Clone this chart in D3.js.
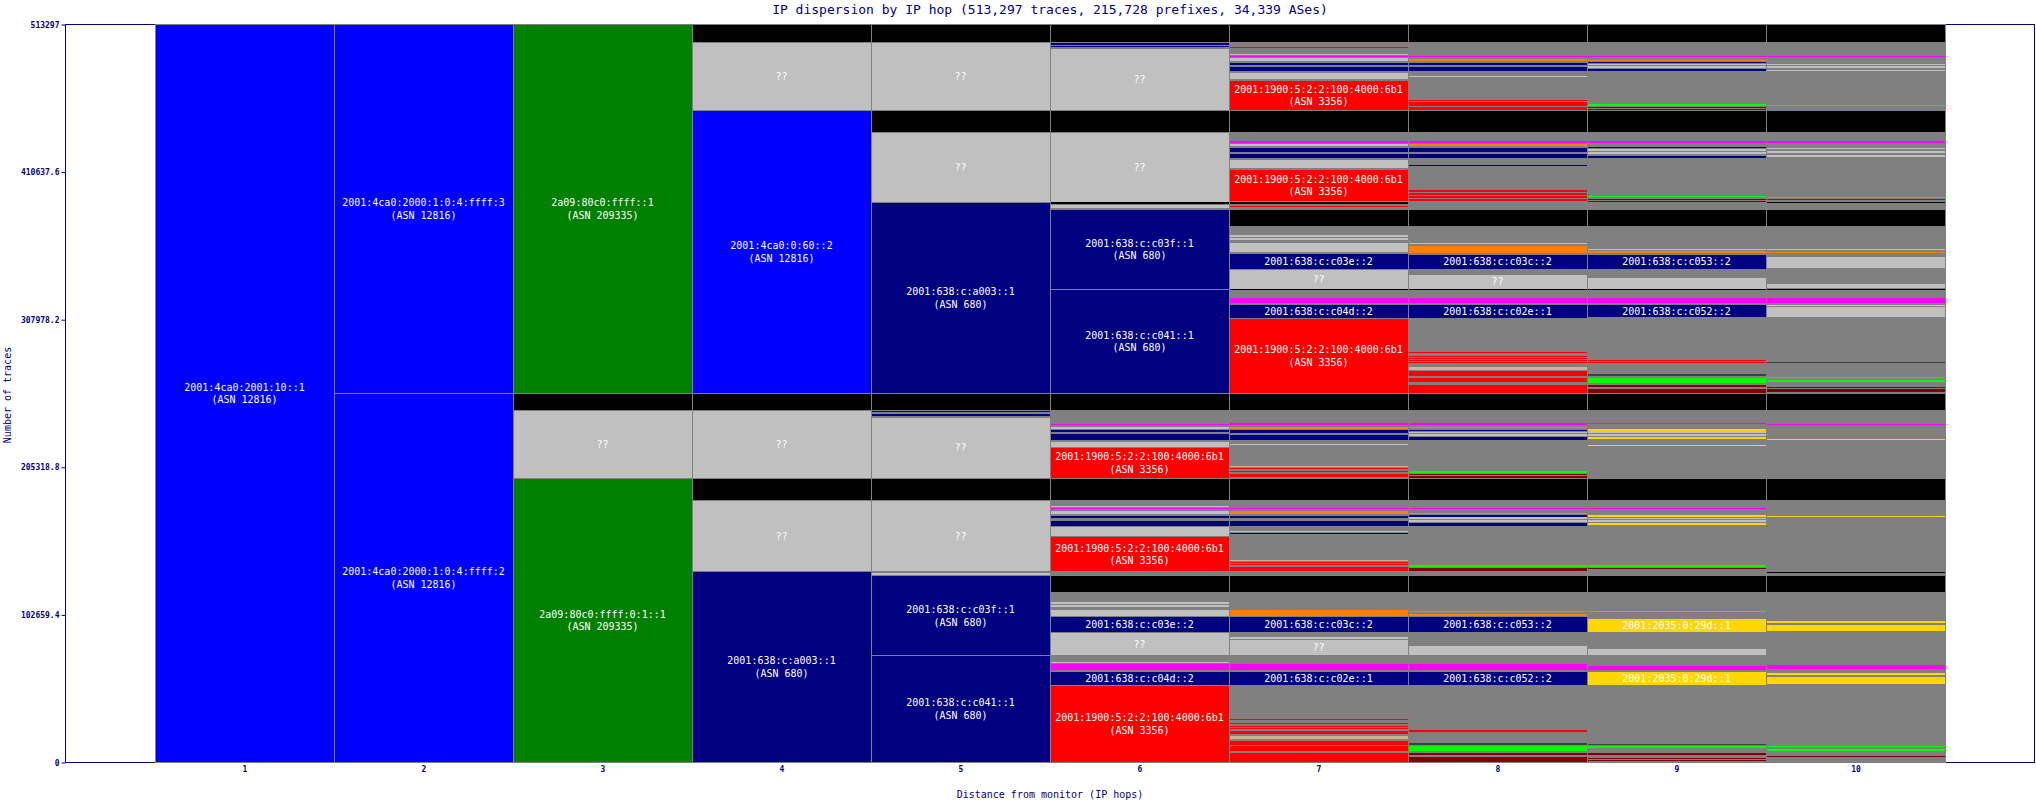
<!DOCTYPE html>
<html>
<head>
<meta charset="utf-8">
<script src="https://cdn.jsdelivr.net/npm/d3@7"></script>
<style>
  body { margin: 0; background: #fff; }
  text { font-family: "DejaVu Sans Mono", "Liberation Mono", monospace; }
  .axis text { fill: #000080; font-size: 8px; font-weight: bold; }
  .axis path { display: none; }
  .axis line { stroke: #000080; }
</style>
</head>
<body>
<div id="chart"></div>
<script>
// traces reaching each hop, listed from top to bottom: [traces, owner, address]
const TOTAL = 513297;
const IP3356 = "2001:1900:5:2:2:100:4000:6b1";

const hop1 = [[513297, "12816", "2001:4ca0:2001:10::1"]];
const hop2 = [[256640, "12816", "2001:4ca0:2000:1:0:4:ffff:3"], [256657, "12816", "2001:4ca0:2000:1:0:4:ffff:2"]];
const hop3 = [[256640, "209335", "2a09:80c0:ffff::1"], [11960, "none"], [47150, "unk"], [197547, "209335", "2a09:80c0:ffff:0:1::1"]];
const hop4 = [[12520, "none"], [47290, "unk"], [196830, "12816", "2001:4ca0:0:60::2"],
  [11960, "none"], [47150, "unk"], [15300, "none"], [49660, "unk"], [132587, "680", "2001:638:c:a003::1"]];
const hop5 = [[12520, "none"], [47290, "unk"], [15300, "none"], [48690, "unk"], [132840, "680", "2001:638:c:a003::1"],
  [11960, "none"], [1000, "680"], [1000, "other"], [1450, "680"], [1000, "other"], [42700, "unk"],
  [15300, "none"], [49660, "unk"], [1000, "other"], [1000, "unk"], [800, "other"],
  [55640, "680", "2001:638:c:c03f::1"], [74147, "680", "2001:638:c:c041::1"]];
const hop6 = [[12520, "none"], [500, "other"], [900, "680"], [900, "other"], [900, "680"], [1250, "other"], [42840, "unk"],
  [15300, "none"], [48690, "unk"],
  [700, "none"], [900, "other"], [2300, "unk"], [750, "other"], [55850, "680", "2001:638:c:c03f::1"], [72340, "680", "2001:638:c:c041::1"],
  [11960, "none"], [3130, "other"], [500, "3356"], [5420, "other"], [830, "mag"], [900, "other"], [2090, "unk"], [700, "other"],
  [1600, "680"], [970, "other"], [4380, "680"], [700, "other"], [4380, "unk"], [21560, "3356", IP3356],
  [15300, "none"], [3760, "other"], [560, "unk"], [700, "other"], [830, "mag"], [1390, "other"], [2300, "unk"], [700, "other"],
  [2570, "680"], [900, "other"], [4170, "680"], [490, "other"], [6470, "unk"], [490, "other"], [24340, "3356", IP3356],
  [2800, "other"],
  [11340, "none"], [6950, "other"], [900, "unk"], [970, "other"], [1800, "unk"], [1180, "other"], [4870, "unk"], [490, "other"],
  [10640, "680", "2001:638:c:c03e::2"], [490, "other"], [15720, "unk"], [290, "other"],
  [700, "none"], [3480, "other"], [700, "unk"], [700, "other"], [4380, "mag"], [700, "other"],
  [9740, "680", "2001:638:c:c04d::2"], [490, "other"], [53257, "3356", IP3356]];
const hop7 = [[12520, "none"], [3130, "other"], [700, "3356"], [3960, "other"], [700, "unk"], [700, "other"], [830, "mag"], [420, "other"],
  [2780, "unk"], [490, "other"], [2570, "680"], [700, "other"], [3480, "680"], [700, "other"], [4380, "unk"], [700, "other"], [21050, "3356", IP3356],
  [15300, "none"], [5360, "other"], [2300, "mag"], [490, "other"], [1390, "unk"], [700, "other"], [3480, "680"], [700, "other"],
  [3480, "680"], [700, "other"], [6470, "unk"], [490, "other"], [22740, "3356", IP3356], [390, "other"],
  [700, "none"], [1800, "other"], [900, "3356"], [1250, "other"],
  [11820, "none"], [6050, "other"], [1390, "unk"], [700, "other"], [2090, "unk"], [900, "other"], [7440, "unk"], [420, "other"],
  [10920, "680", "2001:638:c:c03e::2"], [490, "other"], [13630, "unk"],
  [700, "none"], [4660, "other"], [4380, "mag"], [490, "other"], [9740, "680", "2001:638:c:c04d::2"], [490, "other"], [51880, "3356", IP3356],
  [11960, "none"], [8490, "other"], [1600, "mag"], [1180, "other"], [1810, "org"], [490, "other"], [1880, "680"], [900, "other"],
  [4170, "680"], [2570, "other"], [560, "unk"], [700, "other"], [700, "680"], [13420, "other"], [700, "tan"], [830, "other"],
  [700, "3356"], [1180, "other"], [900, "3356"], [900, "other"], [3060, "3356"], [410, "other"],
  [15300, "none"], [5150, "other"], [1110, "mag"], [970, "other"], [2300, "org"], [700, "other"], [2570, "680"], [900, "other"],
  [4170, "680"], [3130, "other"], [700, "unk"], [630, "other"], [700, "680"], [900, "other"], [700, "unk"], [16690, "other"],
  [700, "tan"], [700, "other"], [830, "3356"], [770, "other"], [900, "3356"], [970, "other"], [3470, "3356"],
  [2800, "other"],
  [11340, "none"], [12030, "other"], [4660, "org"], [490, "other"], [10640, "680", "2001:638:c:c03c::2"], [3270, "other"],
  [1390, "unk"], [420, "other"], [11400, "unk"],
  [700, "none"], [4870, "other"], [4380, "mag"], [700, "other"], [9740, "680", "2001:638:c:c02e::1"], [23650, "other"],
  [700, "3356"], [2090, "other"], [700, "3356"], [1040, "other"], [700, "3356"], [830, "other"], [900, "3356"], [1390, "other"],
  [1600, "3356"], [1670, "other"], [2500, "tan"], [490, "other"], [3480, "3356"], [490, "other"], [4170, "3356"], [700, "other"], [6657, "3356"]];
const hop8 = [[12520, "none"], [9530, "other"], [900, "mag"], [970, "other"], [1600, "org"], [700, "other"], [2570, "680"], [700, "other"],
  [3480, "680"], [2780, "other"], [700, "unk"], [700, "other"], [700, "680"], [14330, "other"], [970, "3356"], [900, "other"],
  [970, "3356"], [560, "other"], [900, "3356"], [420, "other"], [2910, "3356"],
  [15300, "none"], [5360, "other"], [2300, "mag"], [490, "other"], [1390, "org"], [700, "other"], [3480, "680"], [700, "other"],
  [3480, "680"], [4520, "other"], [700, "680"], [560, "other"], [700, "unk"], [15790, "other"], [900, "3356"], [970, "other"],
  [1390, "3356"], [900, "other"], [900, "3356"], [970, "other"], [2090, "3356"], [400, "other"],
  [4650, "other"],
  [11820, "none"], [11610, "other"], [1110, "unk"], [970, "other"], [5290, "org"], [490, "other"],
  [10430, "680", "2001:638:c:c03c::2"], [3480, "other"], [10650, "unk"],
  [700, "none"], [4660, "other"], [4380, "mag"], [490, "other"], [9740, "680", "2001:638:c:c02e::1"], [23650, "other"],
  [700, "3356"], [1880, "other"], [700, "3356"], [490, "other"], [700, "3356"], [1110, "other"], [700, "3356"], [700, "other"],
  [900, "3356"], [2360, "other"], [2300, "tan"], [490, "other"], [3690, "3356"], [700, "other"], [3960, "3356"], [900, "other"], [6440, "3356"],
  [11960, "none"], [8900, "other"], [970, "mag"], [1390, "other"], [900, "org"], [1390, "other"], [900, "680"], [490, "other"],
  [900, "unk"], [490, "other"], [1390, "unk"], [490, "other"], [2300, "680"], [3830, "other"], [700, "680"], [17250, "other"],
  [970, "lime"], [900, "other"], [900, "mar"], [490, "other"], [1180, "mar"], [420, "other"],
  [15300, "none"], [5150, "other"], [1110, "mag"], [2570, "other"], [700, "org"], [700, "other"], [1180, "680"], [420, "other"],
  [1180, "unk"], [490, "other"], [1600, "unk"], [490, "other"], [2300, "680"], [26920, "other"], [1390, "lime"], [420, "other"],
  [970, "mar"], [420, "other"], [1650, "mar"],
  [2800, "other"],
  [11340, "none"], [13010, "other"], [900, "org"], [1180, "other"], [1600, "org"], [490, "other"],
  [10640, "680", "2001:638:c:c053::2"], [9040, "other"], [7440, "unk"],
  [700, "none"], [4870, "other"], [4380, "mag"], [700, "other"], [9740, "680", "2001:638:c:c052::2"], [31300, "other"],
  [900, "3356"], [1390, "other"], [970, "3356"], [5560, "other"], [1390, "dkg"], [700, "other"], [4170, "lime"], [700, "other"],
  [2090, "mar"], [700, "other"], [3887, "mar"]];
const hop9 = [[12520, "none"], [9530, "other"], [900, "mag"], [1880, "other"], [900, "org"], [490, "other"], [560, "680"], [350, "other"],
  [1180, "unk"], [700, "other"], [1180, "unk"], [900, "other"], [1880, "680"], [4030, "other"], [700, "680"], [17740, "other"],
  [1390, "lime"], [490, "other"], [900, "mar"], [630, "other"], [770, "mar"], [190, "other"],
  [15300, "none"], [6260, "other"], [1390, "mag"], [2780, "other"], [700, "680"], [350, "other"], [1390, "unk"], [830, "other"],
  [1390, "unk"], [1180, "other"], [1600, "680"], [26430, "other"], [900, "lime"], [970, "other"], [900, "mar"], [490, "other"],
  [900, "mar"], [230, "other"],
  [300, "other"], [700, "none"], [3650, "other"],
  [11820, "none"], [16000, "other"], [900, "unk"], [490, "other"], [1600, "org"], [700, "other"],
  [10220, "680", "2001:638:c:c053::2"], [6050, "other"], [8070, "unk"],
  [700, "none"], [5050, "other"], [3900, "mag"], [960, "other"], [9040, "680", "2001:638:c:c052::2"], [29420, "other"],
  [700, "3356"], [490, "other"], [700, "3356"], [700, "other"], [700, "unk"], [6470, "other"], [1390, "dkg"], [900, "other"],
  [4170, "lime"], [490, "other"], [2300, "mar"], [700, "other"], [3560, "mar"],
  [11960, "none"], [8900, "other"], [970, "mag"], [3200, "other"], [970, "yel"], [200, "other"], [1390, "unk"], [200, "other"],
  [2360, "unk"], [420, "other"], [1390, "yel"], [4170, "other"], [970, "yel"], [22010, "other"],
  [15300, "none"], [5150, "other"], [1110, "mag"], [4170, "other"], [970, "yel"], [900, "other"], [900, "unk"], [490, "other"],
  [1390, "unk"], [900, "other"], [1390, "yel"], [27820, "other"], [970, "lime"], [700, "other"], [900, "mar"], [1900, "other"],
  [2800, "other"],
  [11340, "none"], [13010, "other"], [700, "org"], [1810, "other"], [970, "org"], [2090, "other"],
  [9250, "yel", "2001:2035:0:29d::1"], [11610, "other"], [4860, "unk"],
  [700, "none"], [5770, "other"], [3480, "mag"], [700, "other"], [9740, "yel", "2001:2035:0:29d::1"], [32340, "other"],
  [700, "unk"], [7510, "other"], [970, "dkg"], [700, "other"], [1110, "lime"], [700, "other"], [700, "lime"], [2360, "other"],
  [2090, "mar"], [1600, "other"], [700, "mar"], [700, "other"], [700, "mar"], [877, "other"]];
const hop10 = [[12520, "none"], [9530, "other"], [700, "mag"], [4380, "other"], [1180, "unk"], [700, "other"], [1180, "unk"],
  [1110, "other"], [1670, "unk"], [23160, "other"], [700, "lime"], [2980, "other"],
  [15300, "none"], [6260, "other"], [1390, "mag"], [3060, "other"], [1110, "unk"], [970, "other"], [1390, "unk"], [900, "other"],
  [2300, "unk"], [27260, "other"], [700, "lime"], [700, "other"], [700, "dkg"], [1950, "other"],
  [700, "none"], [3950, "other"],
  [11820, "none"], [16210, "other"], [500, "unk"], [1390, "other"], [900, "org"], [2360, "other"], [8350, "unk"], [9950, "other"],
  [3960, "unk"], [410, "other"],
  [700, "none"], [5050, "other"], [3900, "mag"], [960, "other"], [900, "yel"], [490, "other"], [7650, "unk"], [30810, "other"],
  [700, "dkg"], [490, "other"], [700, "unk"], [6820, "other"], [560, "dkg"], [970, "other"], [1110, "lime"], [700, "other"],
  [2360, "lime"], [2780, "other"], [1110, "mar"], [700, "other"], [1670, "mar"], [1210, "other"],
  [11960, "none"], [9390, "other"], [700, "mag"], [9740, "other"], [700, "yel"], [26620, "other"],
  [15300, "none"], [5840, "other"], [700, "mag"], [4450, "other"], [700, "yel"], [5910, "other"], [700, "yel"], [31360, "other"],
  [200, "other"], [700, "none"], [1900, "other"],
  [11340, "none"], [19470, "other"], [2090, "yel"], [700, "other"], [5290, "yel"], [16750, "other"],
  [700, "none"], [5560, "other"], [3060, "mag"], [2090, "other"], [2160, "yel"], [1040, "other"], [5360, "yel"], [42630, "other"],
  [1040, "lime"], [1390, "other"], [1390, "lime"], [3130, "other"], [700, "mar"], [700, "other"], [700, "mar"], [2497, "other"]];

const HOPS = [hop1, hop2, hop3, hop4, hop5, hop6, hop7, hop8, hop9, hop10];
const KEYS = ["none", "unk", "other", "12816", "209335", "680", "3356", "mag", "org", "yel", "lime", "mar", "tan", "dkg"];
const KEY_COLORS = ["#000000", "#c0c0c0", "#808080", "#0000ff", "#008000", "#000080", "#ff0000", "#ff00ff", "#ff8000", "#ffd700", "#00ff00", "#800000", "#d2b48c", "#404040"];
const Y_TICKS = ["0", "102659.4", "205318.8", "307978.2", "410637.6", "513297"];

const WIDTH = 2036;
const HEIGHT = 800;
const NAVY = "#000080";

const SVG = d3.select("#chart").append("svg")
  .attr("width", WIDTH)
  .attr("height", HEIGHT)
  .style("display", "block");

const X_SCALE = d3.scaleLinear().domain([0, 11]).range([65.5, 2034.5]);
const Y_SCALE = d3.scaleLinear().domain([0, TOTAL]).range([762.5, 24.5]);
const COLOR = d3.scaleOrdinal().domain(KEYS).range(KEY_COLORS);

// frame
SVG.append("rect")
  .attr("x", X_SCALE(0))
  .attr("y", Y_SCALE(TOTAL))
  .attr("width", X_SCALE(11) - X_SCALE(0))
  .attr("height", Y_SCALE(0) - Y_SCALE(TOTAL))
  .attr("fill", "#fff")
  .attr("stroke", NAVY);

// stack every hop column
const BLOCKS = [];
HOPS.forEach((segs, i) => {
  let acc = 0;
  segs.forEach((s) => {
    BLOCKS.push({ hop: i + 1, v0: acc, v1: acc + s[0], key: s[1], ip: s[2] });
    acc += s[0];
  });
});

const blockTop = (d) => Y_SCALE(TOTAL - d.v0);
const blockH = (d) => Y_SCALE(TOTAL - d.v1) - Y_SCALE(TOTAL - d.v0);

const PLOT = SVG.append("g").attr("shape-rendering", "crispEdges");

PLOT.selectAll(".block")
  .data(BLOCKS)
  .enter()
  .append("rect")
  .attr("class", "block")
  .attr("x", (d) => X_SCALE(d.hop - 0.5))
  .attr("width", (d) => X_SCALE(d.hop + 0.5) - X_SCALE(d.hop - 0.5))
  .attr("y", blockTop)
  .attr("height", blockH)
  .attr("fill", (d) => COLOR(d.key))
  .attr("stroke", (d) => (blockH(d) >= 3 ? "#808080" : "none"));

PLOT.selectAll(".sep")
  .data(d3.range(0, 11))
  .enter()
  .append("line")
  .attr("class", "sep")
  .attr("x1", (d) => X_SCALE(d + 0.5))
  .attr("x2", (d) => X_SCALE(d + 0.5))
  .attr("y1", Y_SCALE(TOTAL))
  .attr("y2", Y_SCALE(0))
  .attr("stroke", "#808080");

// block labels
const labelLines = (d) => {
  const h = blockH(d);
  let lines = [];
  if (d.key === "unk") lines = ["??"];
  else if (d.ip) lines = /^\d+$/.test(d.key) ? [d.ip, "(ASN " + d.key + ")"] : [d.ip];
  if (h < 12.5) return [];
  if (h < 26) return lines.slice(0, 1);
  return lines;
};

const LABELS = SVG.append("g")
  .attr("fill", "#fff")
  .attr("font-size", "10px")
  .attr("text-anchor", "middle");

BLOCKS.forEach((d) => {
  const lines = labelLines(d);
  const mid = blockTop(d) + blockH(d) / 2;
  lines.forEach((t, k) => {
    LABELS.append("text")
      .attr("x", X_SCALE(d.hop))
      .attr("y", mid + (k - (lines.length - 1) / 2) * 12.6)
      .attr("dy", "0.35em")
      .text(t);
  });
});

// axes
SVG.append("g")
  .attr("class", "axis")
  .attr("transform", "translate(" + X_SCALE(0) + ",0)")
  .call(d3.axisLeft(Y_SCALE)
    .tickValues(Y_TICKS.map(Number))
    .tickFormat((d, i) => Y_TICKS[i])
    .tickSize(4)
    .tickPadding(2)
    .tickSizeOuter(0));

SVG.append("g")
  .attr("class", "axis")
  .attr("transform", "translate(0," + Y_SCALE(0) + ")")
  .call(d3.axisBottom(X_SCALE)
    .tickValues(d3.range(1, 11))
    .tickFormat(d3.format("d"))
    .tickSize(0)
    .tickPadding(4));

SVG.append("text")
  .attr("x", (X_SCALE(0) + X_SCALE(11)) / 2)
  .attr("y", 9)
  .attr("dy", "0.35em")
  .attr("text-anchor", "middle")
  .attr("font-size", "13px")
  .attr("fill", NAVY)
  .text("IP dispersion by IP hop (513,297 traces, 215,728 prefixes, 34,339 ASes)");

SVG.append("text")
  .attr("x", (X_SCALE(0) + X_SCALE(11)) / 2)
  .attr("y", 794)
  .attr("dy", "0.35em")
  .attr("text-anchor", "middle")
  .attr("font-size", "10px")
  .attr("fill", NAVY)
  .text("Distance from monitor (IP hops)");

SVG.append("text")
  .attr("transform", "translate(7,395) rotate(-90)")
  .attr("dy", "0.35em")
  .attr("text-anchor", "middle")
  .attr("font-size", "10px")
  .attr("fill", NAVY)
  .text("Number of traces");
</script>
</body>
</html>
